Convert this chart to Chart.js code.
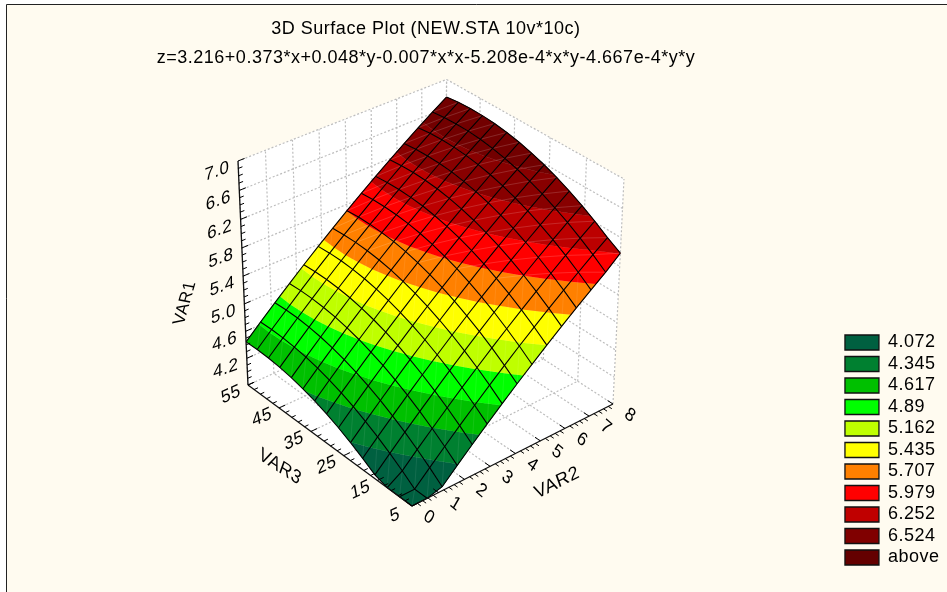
<!DOCTYPE html>
<html>
<head>
<meta charset="utf-8">
<style>html,body{margin:0;padding:0;background:#fff}canvas{display:block}</style>
<script src="https://cdn.jsdelivr.net/npm/chart.js@4/dist/chart.umd.min.js"></script>
</head>
<body>
<canvas id="c" width="947" height="592"></canvas>
<script>
const titleText = "3D Surface Plot (NEW.STA 10v*10c)";
const subtitleText = "z=3.216+0.373*x+0.048*y-0.007*x*x-5.208e-4*x*y-4.667e-4*y*y";
const var2Values = [0,0.571,1.143,1.714,2.286,2.857,3.429,4,4.571,5.143,5.714,6.286,6.857,7.429,8];
const var3Values = [5,8.571,12.143,15.714,19.286,22.857,26.429,30,33.571,37.143,40.714,44.286,47.857,51.429,55];
const surfaceZ = [
[3.444,3.654,3.858,4.059,4.254,4.446,4.632,4.814,4.991,5.164,5.332,5.496,5.655,5.810,5.985],
[3.593,3.801,4.005,4.204,4.399,4.589,4.775,4.955,5.132,5.303,5.470,5.633,5.791,5.945,6.093],
[3.730,3.937,4.140,4.338,4.532,4.721,4.905,5.085,5.260,5.431,5.597,5.758,5.916,6.068,6.215],
[3.855,4.061,4.263,4.460,4.652,4.841,5.024,5.202,5.377,5.546,5.711,5.872,6.028,6.179,6.325],
[3.968,4.173,4.374,4.570,4.761,4.948,5.131,5.308,5.481,5.649,5.814,5.973,6.128,6.278,6.424],
[4.069,4.273,4.472,4.668,4.858,5.044,5.225,5.401,5.574,5.741,5.904,6.062,6.216,6.366,6.510],
[4.159,4.362,4.560,4.754,4.944,5.129,5.309,5.484,5.655,5.821,5.983,6.140,6.294,6.442,6.585],
[4.236,4.438,4.635,4.828,5.016,5.200,5.379,5.553,5.724,5.889,6.050,6.206,6.358,6.505,6.647],
[4.302,4.503,4.699,4.891,5.078,5.261,5.439,5.612,5.781,5.945,6.105,6.260,6.411,6.557,6.698],
[4.355,4.555,4.750,4.941,5.127,5.309,5.486,5.658,5.826,5.989,6.147,6.301,6.451,6.596,6.736],
[4.397,4.596,4.790,4.980,5.165,5.345,5.521,5.692,5.859,6.021,6.179,6.332,6.481,6.624,6.763],
[4.426,4.624,4.817,5.005,5.189,5.369,5.544,5.714,5.880,6.040,6.197,6.349,6.497,6.640,6.777],
[4.444,4.641,4.833,5.020,5.203,5.382,5.556,5.724,5.889,6.049,6.205,6.355,6.502,6.644,6.781],
[4.450,4.646,4.836,5.023,5.205,5.382,5.555,5.723,5.887,6.045,6.200,6.350,6.495,6.636,6.772],
[4.444,4.639,4.828,5.014,5.195,5.371,5.543,5.709,5.872,6.030,6.183,6.332,6.477,6.617,6.751]
];
const bandLabels = ["4.072","4.345","4.617","4.89","5.162","5.435","5.707","5.979","6.252","6.524","above"];
const bandUpper = [4.072,4.345,4.617,4.89,5.162,5.435,5.707,5.979,6.252,6.524,99];
const bandColours = ["#006040","#008030","#00C000","#00FF00","#BFFF00","#FFFF00","#FF8000","#FF0000","#C00000","#800000","#640000"];
const surfaceColours = ["#006040","#008030","#00C000","#00FF00","#BFFF00","#FFFF00","#FF8000","#FF0000","#BC0000","#880000","#720000"];
const var2Ticks = [0,1,2,3,4,5,6,7,8];
const var3Ticks = [5,15,25,35,45,55];
const zTicks = [4.2,4.6,5.0,5.4,5.8,6.2,6.6,7.0];
const zMinorStep = 0.1, var2MinorStep = 0.2, var3MinorStep = 2;
const zFloor = 3.8, zTop = 7.0;
const BG = "#FFFBF0", GRID = "#BDBDBD", FONT = "'Liberation Sans', Arial, sans-serif";
const SPACING = "0.5px";

// Perspective camera: maps plot coordinates to the hidden screen scales.
function project(v2, v3, z) {
  const a = v2 / 8, b = (v3 - 5) / 50, c = (Math.max(z, zFloor) - zFloor) / (zTop - zFloor);
  const d = 1 + 0.06 * a + 0.0694 * b - 0.0579 * c;
  return { x: (412 + 237.78 * a - 146.79 * b - 24.47 * c) / d,
           y: (506 - 77.76 * a - 94.28 * b - 248.86 * c) / d };
}
const datasets = [];
function addLine(pts, opts) { datasets.push(Object.assign({ data: pts, showLine: true, pointRadius: 0, tension: 0, fill: false, borderWidth: 1, borderColor: "#000" }, opts)); }
function addPoly(pts, colour) { addLine(pts, { fill: 'shape', backgroundColor: colour, borderColor: colour, borderWidth: 0.7 }); }
const dash = { borderColor: GRID, borderWidth: 1.2, borderDash: [2, 2] };
const axisStyle = { borderWidth: 1.3, borderColor: "#111" };
const meshStyle = { borderWidth: 1.1, borderColor: "#000" };

// Walls and floor
const [v0, v1] = [0, 8], [w0, w1] = [5, 55];
addPoly([project(v0,w1,zFloor),project(v1,w1,zFloor),project(v1,w1,zTop),project(v0,w1,zTop)], "#fff");
addPoly([project(v1,w0,zFloor),project(v1,w1,zFloor),project(v1,w1,zTop),project(v1,w0,zTop)], "#fff");
addPoly([project(v0,w0,zFloor),project(v1,w0,zFloor),project(v1,w1,zFloor),project(v0,w1,zFloor)], "#fff");
// Grid
for (const v of var2Ticks) {
  if (v > 0) addLine([project(v,w0,zFloor),project(v,w1,zFloor)], dash);
  addLine([project(v,w1,zFloor),project(v,w1,zTop)], dash);
}
for (const w of var3Ticks) {
  if (w > 5) addLine([project(v0,w,zFloor),project(v1,w,zFloor)], dash);
  addLine([project(v1,w,zFloor),project(v1,w,zTop)], dash);
}
for (const z of zTicks) {
  addLine([project(v0,w1,z),project(v1,w1,z),project(v1,w0,z)], dash);
}
// Surface: clip each grid cell to each colour band
function clipBand(poly, test, lim) {
  const out = [];
  for (let i = 0; i < poly.length; i++) {
    const p = poly[i], q = poly[(i + 1) % poly.length];
    const pin = test(p[2]), qin = test(q[2]);
    if (pin) out.push(p);
    if (pin !== qin) {
      const t = (lim - p[2]) / (q[2] - p[2]);
      out.push([p[0] + t * (q[0] - p[0]), p[1] + t * (q[1] - p[1]), lim]);
    }
  }
  return out;
}
const Z = (j, k) => Math.max(surfaceZ[j][k], zFloor);
for (let j = var3Values.length - 2; j >= 0; j--) {
  for (let k = var2Values.length - 2; k >= 0; k--) {
    const cell = [[var2Values[k],var3Values[j],Z(j,k)],[var2Values[k+1],var3Values[j],Z(j,k+1)],
                  [var2Values[k+1],var3Values[j+1],Z(j+1,k+1)],[var2Values[k],var3Values[j+1],Z(j+1,k)]];
    bandUpper.forEach((hi, n) => {
      const lo = n ? bandUpper[n-1] : -99;
      let poly = clipBand(cell, z => z >= lo, lo);
      if (poly.length) poly = clipBand(poly, z => z <= hi, hi);
      if (poly.length > 2) addPoly(poly.map(p => project(p[0], p[1], p[2])), surfaceColours[n]);
    });
  }
}
// Faint seams of the surface facets
for (let j = 0; j < var3Values.length - 1; j++) {
  for (let k = 0; k < var2Values.length - 1; k++) {
    const high = surfaceZ[j][k] > 5.5;
    const seam = { borderWidth: 0.8, borderColor: high ? "rgba(255,255,255,0.2)" : "rgba(255,255,255,0.1)" };
    const pts = high
      ? [project(var2Values[k+1],var3Values[j],surfaceZ[j][k+1]), project(var2Values[k],var3Values[j+1],surfaceZ[j+1][k])]
      : [project(var2Values[k],var3Values[j],surfaceZ[j][k]), project(var2Values[k+1],var3Values[j+1],surfaceZ[j+1][k+1])];
    addLine(pts, seam);
  }
}
for (let k = 0; k < var2Values.length; k++) addLine(var3Values.map((w, j) => project(var2Values[k], w, surfaceZ[j][k])), meshStyle);
for (let j = 0; j < var3Values.length; j++) addLine(var2Values.map((v, k) => project(v, var3Values[j], surfaceZ[j][k])), meshStyle);
// Axes
addLine([project(v0,w1,zFloor),project(v0,w1,zTop)], axisStyle);
addLine([project(v0,w1,zFloor),project(v0,w0,zFloor)], axisStyle);
addLine([project(v0,w0,zFloor),project(v1,w0,zFloor)], axisStyle);
function near(x, step) { return Math.abs(x / step - Math.round(x / step)) < 1e-6; }
for (let z = zFloor; z <= zTop + 1e-6; z += zMinorStep) {
  const major = near(z - 4.2, 0.4);
  addLine([project(v0,w1,z),project(major ? 0.24 : 0.15,w1,z)]);
}
for (let w = 5; w <= 55; w += var3MinorStep) {
  const major = near(w - 5, 10);
  addLine([project(v0,w,zFloor),project(major ? 0.24 : 0.15,w,zFloor)]);
}
for (let v = 0; v <= 8 + 1e-6; v += var2MinorStep) {
  const major = near(v, 1);
  addLine([project(v,w0,zFloor),project(v,major ? 6.5 : 4,zFloor)]);
}
datasets.forEach((d, i) => { d.order = datasets.length - i; });

function drawText(ctx, text, cx, cy, angle, down, size) {
  const A = angle * Math.PI / 180, D = down * Math.PI / 180;
  ctx.save();
  ctx.translate(cx, cy);
  ctx.transform(Math.cos(A), Math.sin(A), Math.cos(D), Math.sin(D), 0, 0);
  ctx.font = (size || 18) + "px " + FONT;
  ctx.letterSpacing = SPACING;
  ctx.fillStyle = "#000";
  ctx.textAlign = "center";
  ctx.textBaseline = "middle";
  ctx.fillText(text, 0, 0);
  ctx.restore();
}
const decor = {
  id: 'decor',
  beforeDraw(chart) {
    const ctx = chart.ctx;
    ctx.save();
    ctx.fillStyle = BG;
    ctx.fillRect(6, 4, 941, 588);
    ctx.strokeStyle = "#222";
    ctx.lineWidth = 1;
    ctx.beginPath();
    ctx.moveTo(6.5, 592); ctx.lineTo(6.5, 4.5); ctx.lineTo(947, 4.5);
    ctx.stroke();
    ctx.restore();
    ctx.letterSpacing = SPACING;
  },
  afterDatasetsDraw(chart) {
    const ctx = chart.ctx;
    for (const z of zTicks) {
      const p = project(0, 55, z);
      drawText(ctx, z.toFixed(1), p.x - 21, p.y + 10.5, -20, 90);
    }
    for (const w of var3Ticks) {
      const p = project(0, w, zFloor);
      drawText(ctx, String(w), p.x - 17, p.y + 9.5, -24, 80);
    }
    for (const v of var2Ticks) {
      const p = project(v, 5, zFloor);
      drawText(ctx, String(v), p.x + 17, p.y + 11.5, 40, 120);
    }
    drawText(ctx, "VAR1", 185, 303, -74, 10, 17);
    drawText(ctx, "VAR3", 280, 467, 33, 110, 18.5);
    drawText(ctx, "VAR2", 557, 483, -27, 70, 18.5);
  }
};
new Chart(document.getElementById('c'), {
  type: 'scatter',
  data: { datasets },
  plugins: [decor],
  options: {
    responsive: false, animation: false, events: [],
    layout: { padding: { left: 10.5, right: 0, top: 0, bottom: 22 } },
    scales: {
      x: { type: 'linear', display: false, min: 10.5, max: 841.5 },
      y: { type: 'linear', display: false, reverse: true, min: 71.2, max: 570 }
    },
    plugins: {
      tooltip: { enabled: false },
      title: { display: true, fullSize: false, text: titleText, color: "#000", padding: { top: 18, bottom: 0 }, font: { family: FONT, size: 18, weight: 'normal', lineHeight: 1.2 } },
      subtitle: { display: true, fullSize: false, text: subtitleText, color: "#000", padding: { top: 8, bottom: 2 }, font: { family: FONT, size: 18, weight: 'normal', lineHeight: 1.2 } },
      legend: {
        display: true, position: 'right', align: 'end', onClick: null,
        labels: {
          boxWidth: 34, boxHeight: 15, padding: 3.5, color: "#000",
          font: { family: FONT, size: 18 },
          generateLabels: () => bandLabels.map((t, i) => ({ text: t, fillStyle: bandColours[i], strokeStyle: "#111", lineWidth: 1.3, hidden: false, datasetIndex: 0, fontColor: "#000" }))
        }
      }
    }
  }
});
</script>
</body>
</html>
